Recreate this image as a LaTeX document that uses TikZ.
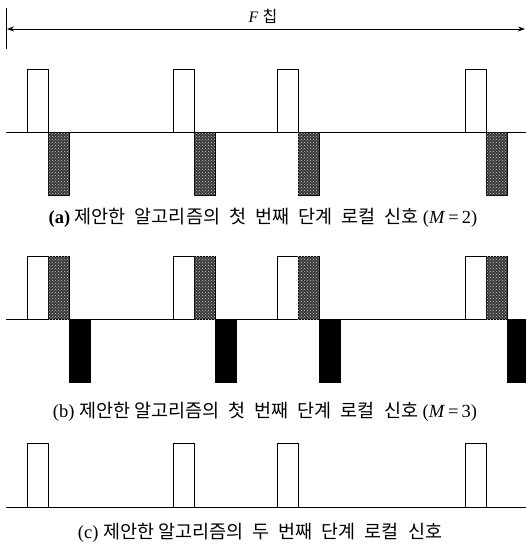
\documentclass[tikz,border=0pt]{standalone}
\usepackage{fontspec}
\setmainfont{Liberation Serif}
\newfontfamily\krfont{Noto Sans CJK KR}
\newcommand{\kr}[1]{{\krfont #1}}
\newcommand{\gap}{\hspace{9pt}}
\usetikzlibrary{arrows.meta, patterns}

\begin{document}
\begin{tikzpicture}[x=1pt, y=-1pt, line width=0.9pt,
        pulse/.style={draw, fill=white},
        greypulse/.style={draw, fill=black!78, postaction={pattern=crosshatch dots, pattern color=white!80!black}},
        darkpulse/.style={draw, fill=black},
        caption/.style={font=\fontsize{18.5}{19}\selectfont}]
        \useasboundingbox (0,0) rectangle (526,552);

        % 프레임 길이 (F 칩)
        \coordinate (Fl) at (7,29);
        \coordinate (Fr) at (525,29);
        \draw (6,8) -- (6,49);
        \draw[{Stealth[length=7pt, width=5pt]}-{Stealth[length=7pt, width=5pt]}] (Fl) -- (Fr);
        \node[font=\fontsize{16}{16}\selectfont] (flabel) at (263,16) {\textit{F} \kr{칩}};

        % (a) M = 2
        \draw (6,132) -- (526,132);
        \foreach \x in {27,173,277,465} {
            \draw[pulse] (\x,132) rectangle ++(21,-63);
            \draw[greypulse] (\x+21,132) rectangle ++(21,63);
        }
        \node[caption] (capa) at (263,218) {\textbf{(a)} \kr{제안한}\gap\kr{알고리즘의}\gap\kr{첫}\gap\kr{번째}\gap\kr{단계}\gap\kr{로컬}\gap\kr{신호} (\textit{M}\,=\,2)};

        % (b) M = 3
        \draw (6,319) -- (526,319);
        \foreach \x in {27,173,277,465} {
            \draw[pulse] (\x,319) rectangle ++(21,-63);
            \draw[greypulse] (\x+21,319) rectangle ++(21,-63);
            \draw[darkpulse] (\x+42,319) rectangle ++(21,63);
        }
        \node[caption] (capb) at (265,412) {(b) \kr{제안한} \kr{알고리즘의}\gap\kr{첫}\gap\kr{번째}\gap\kr{단계}\gap\kr{로컬}\gap\kr{신호} (\textit{M}\,=\,3)};

        % (c) 두 번째 단계
        \draw (6,507) -- (526,507);
        \foreach \x in {27,173,277,465}
            \draw[pulse] (\x,507) rectangle ++(21,-64);
        \node[caption] (capc) at (260,533) {(c) \kr{제안한} \kr{알고리즘의}\gap\kr{두}\gap\kr{번째}\gap\kr{단계}\gap\kr{로컬}\gap\kr{신호}};
\end{tikzpicture}
\end{document}
